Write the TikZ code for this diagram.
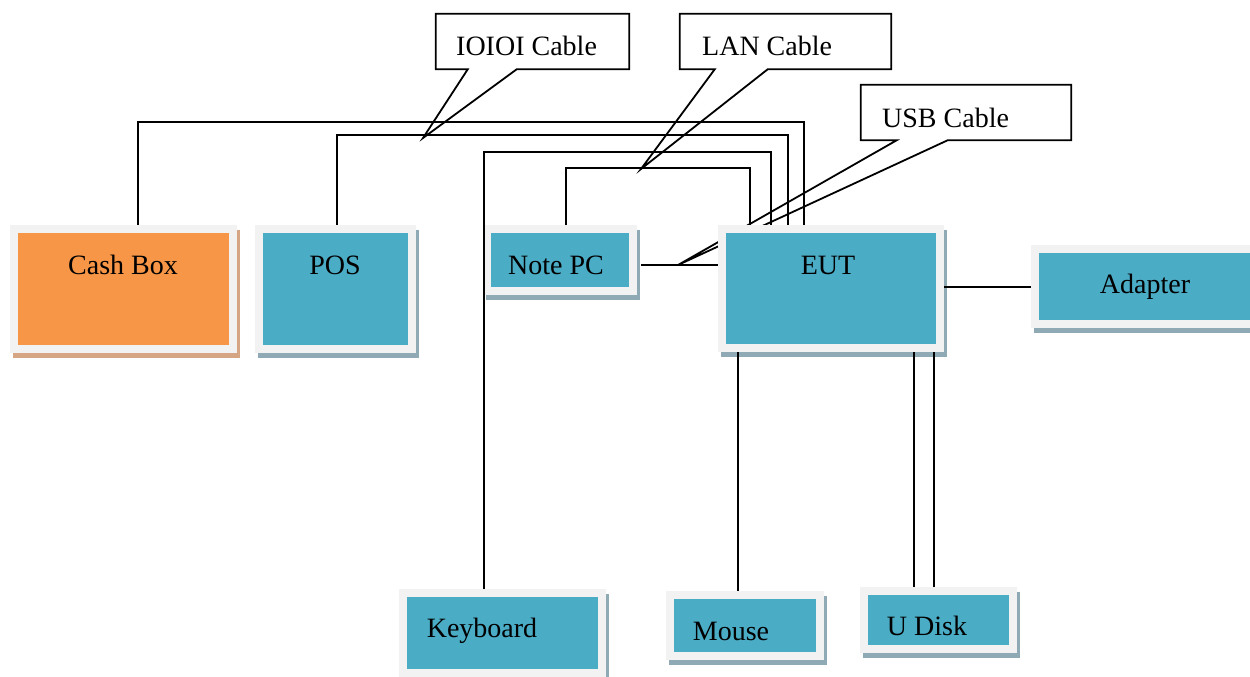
\documentclass[tikz,border=0pt]{standalone}
\usepackage{fontspec}
\setmainfont{Liberation Serif}
\usetikzlibrary{shadows,calc}
\definecolor{framegray}{HTML}{F2F2F2}
\definecolor{bluefill}{HTML}{4BACC6}
\definecolor{blueshadow}{HTML}{8FAAB4}
\definecolor{orangefill}{HTML}{F79646}
\definecolor{orangeshadow}{HTML}{D5A584}
\begin{document}
\begin{tikzpicture}[x=1pt,y=-1pt,
  devbox/.style 2 args={rectangle, fill=framegray, inner sep=0pt, draw=none,
    drop shadow={shadow xshift=3pt, shadow yshift=-5pt, opacity=1, fill=#2},
    path picture={\fill[#1] ([shift={(8pt,8pt)}]path picture bounding box.south west) rectangle ([shift={(-8pt,-8pt)}]path picture bounding box.north east);}},
  lbl/.style={inner sep=0pt, font=\fontsize{28}{32}\selectfont},
  calloutbox/.style={rectangle, inner sep=0pt, draw=none},
  callout/.style={draw=black, line width=1.8pt, line join=miter},
  wire/.style={draw=black, line width=2pt}
]
\useasboundingbox (0,0) rectangle (1250,677);

% callouts
\coordinate (ioioiTip) at (423,138);
\node[calloutbox, minimum width=193pt, minimum height=55pt] (ioioi) at (532.5,41.5) {};
\draw[callout] (ioioi.north west) -- (ioioi.north east) -- (ioioi.south east) -- ([xshift=81pt]ioioi.south west) -- (ioioiTip) -- ([xshift=32pt]ioioi.south west) -- (ioioi.south west) -- cycle;
\node[lbl, anchor=base west] (ioioiText) at (456,56) {IOIOI Cable};

\coordinate (lanTip) at (641,169);
\node[calloutbox, minimum width=211pt, minimum height=55pt] (lan) at (785.5,41.5) {};
\draw[callout] (lan.north west) -- (lan.north east) -- (lan.south east) -- ([xshift=88pt]lan.south west) -- (lanTip) -- ([xshift=35pt]lan.south west) -- (lan.south west) -- cycle;
\node[lbl, anchor=base west] (lanText) at (702,56) {LAN Cable};

\coordinate (usbTip) at (678,265);
\node[calloutbox, minimum width=210pt, minimum height=55pt] (usb) at (966,112.5) {};
\draw[callout] (usb.north west) -- (usb.north east) -- (usb.south east) -- ([xshift=87pt]usb.south west) -- (usbTip) -- ([xshift=36pt]usb.south west) -- (usb.south west) -- cycle;
\node[lbl, anchor=base west] (usbText) at (882,127) {USB Cable};

% device boxes
\node[devbox={orangefill}{orangeshadow}, minimum width=227pt, minimum height=128pt] (cash) at (123.5,289) {};
\node[devbox={bluefill}{blueshadow}, minimum width=161pt, minimum height=128pt] (pos) at (335.5,289) {};
\node[devbox={bluefill}{blueshadow}, minimum width=154pt, minimum height=70pt] (notepc) at (560,260) {};
\node[devbox={bluefill}{blueshadow}, minimum width=226pt, minimum height=127pt] (eut) at (831,288.5) {};
\node[devbox={bluefill}{blueshadow}, minimum width=231pt, minimum height=83pt] (adapter) at (1146.5,286.5) {};
\node[devbox={bluefill}{blueshadow}, minimum width=207pt, minimum height=88pt] (keyboard) at (502.5,633) {};
\node[devbox={bluefill}{blueshadow}, minimum width=158pt, minimum height=69pt] (mouse) at (745,625.5) {};
\node[devbox={bluefill}{blueshadow}, minimum width=157pt, minimum height=66pt] (udisk) at (938.5,620) {};

% labels
\node[lbl, anchor=base] (cashText) at (123,274) {Cash Box};
\node[lbl, anchor=base] (posText) at (335,274) {POS};
\node[lbl, anchor=base] (notepcText) at (556,274) {Note PC};
\node[lbl, anchor=base] (eutText) at (828,274) {EUT};
\node[lbl, anchor=base] (adapterText) at (1145,293) {Adapter};
\node[lbl, anchor=base] (keyboardText) at (482,637) {Keyboard};
\node[lbl, anchor=base] (mouseText) at (731,640) {Mouse};
\node[lbl, anchor=base] (udiskText) at (927,635) {U Disk};

% wires
\draw[wire] ([xshift=14.5pt]cash.north) -- ++(0,-103) -| ([xshift=-27pt]eut.north);
\draw[wire] ([xshift=1.5pt]pos.north) -- ++(0,-90) -| ([xshift=-43pt]eut.north);
\draw[wire] ([xshift=-18.5pt]keyboard.north) -- ++(0,-437) -| ([xshift=-60pt]eut.north);
\draw[wire] ([xshift=6pt]notepc.north) -- ++(0,-57) -| ([xshift=-81pt]eut.north);
\coordinate (npcport) at ([shift={(4pt,-5pt)}]notepc.east);
\draw[wire] (npcport) -- (npcport -| eut.west);
\draw[wire] (adapter.west -| eut.east) -- (adapter.west);
\coordinate (mport) at ([xshift=-93pt]eut.south);
\draw[wire] (mport) -- (mport |- mouse.north);
\coordinate (uport1) at ([xshift=83pt]eut.south);
\coordinate (uport2) at ([xshift=103pt]eut.south);
\draw[wire] (uport1) -- (uport1 |- udisk.north);
\draw[wire] (uport2) -- (uport2 |- udisk.north);
\end{tikzpicture}
\end{document}
